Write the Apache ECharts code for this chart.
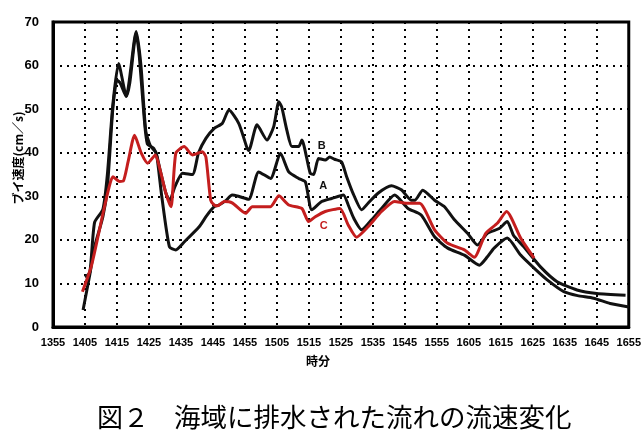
<!DOCTYPE html>
<html><head><meta charset="utf-8">
<script src="https://cdn.jsdelivr.net/npm/echarts@6/dist/echarts.min.js"></script>
<style>html,body{margin:0;padding:0;background:#fff}#c{width:644px;height:444px}</style>
</head><body><div id="c"></div>
<script>
// time = minutes after 13:55
const START_MIN = 13 * 60 + 55;
const xTicksMax = 180;
const yTicks = [0, 10, 20, 30, 40, 50, 60, 70];

const timeA = [9.4,11.5,13,15.6,17,18.7,20,21,22.9,24,26,27,28.5,29.5,31.5,32.5,34,36.4,38.4,41,45.7,48,50.4,51.9,54,56,58,61.2,64.3,68,71.1,73.7,76.8,78.9,80.9,84,87.1,90.8,92.3,94,96.5,99.6,102.7,106.8,111,115.1,119.3,123.4,128.6,133.3,135.8,137.9,142,146.2,150.4,154.5,159.7,164,169,174.2,180];
const speedA = [3.9,12,18.4,25.3,32,50,56.7,56,52.9,56,67.5,62,48,42,41,39,30,18.4,17.7,19.5,23,25.5,27.6,28,29,30.3,30,29.3,35.6,34.1,39.9,35.6,34.1,33.3,26.9,28.8,29.5,30.3,28,25,22.3,24.6,27.2,30.3,27.2,25.7,20.7,18.1,16.5,14.2,16.1,18.1,20.4,16.5,13.5,10.8,8.1,7.2,6.6,5.4,4.6];

const timeB = [10,11.5,13,15.6,17,18.7,20.5,22.9,26,27.5,29,30.5,32.2,33.5,35.3,36.5,38,40.5,43.6,45.5,47.8,50.4,52.9,55,58.1,60.7,61.2,63.8,66.9,69,70.6,71.5,73.1,74.7,76.8,77.8,80.4,81.5,83,85.1,86.5,88,90.2,91.8,93.9,96.5,98.5,101.6,105.8,108.9,112,113.1,115.6,119.3,122.4,125.5,129.6,132.7,135.8,139.5,142,144,147.2,152.4,157.6,163.8,170,179];
const speedB = [11.5,12.5,24,27,35,51,60.5,53,67.8,60,45,41.5,40,36,30.7,29,32,35.3,35,40,43.3,45.6,46.7,49.8,46.7,41,40.5,46.4,42.9,46,51.7,50.5,45.2,41.4,41.4,42.9,35.3,35,38.7,38.3,39,38.5,37.9,34.5,30.5,26.9,28.4,30.7,32.4,31.5,29.1,29.1,31.4,29.1,27.6,24.6,21.5,18.8,21.5,22.6,24.2,21,18.4,13.8,10.4,8.5,7.7,7.3];

const timeC = [9.2,12,15.6,17.5,18.7,20.8,22,23.5,25.5,27.6,29.6,32,33.5,35.3,36.9,38.4,41,43.6,46.7,47.8,49.3,50.4,51.5,53.5,56,60.2,62.3,68,70.6,73.7,77.8,79.9,82,85.1,89.7,92.3,94.9,98.5,102.7,106.8,110.4,114.6,119.3,123.4,128.6,131.7,135.3,138.9,141.8,146.2,150.4];
const speedC = [8.1,14,26,32,34.5,33.4,33.5,38,44,39.9,37.6,39.5,36,30.7,27.6,39.9,41.4,39.5,40.2,39,29.1,28,27.8,28.8,28.5,26.1,27.6,27.6,30.1,28,27.2,24.2,25.3,26.5,27.2,23.4,20.6,23,26.5,28.8,28.4,28.4,22.3,19.2,17.7,16,21.5,23.8,26.5,20.4,15.8];

const seriesNames = ['A', 'B', 'C'];
const labelPosA = [84.5, 32.4];
const labelPosB = [84, 41.5];
const labelPosC = [84.6, 23.3];

const yTitle = 'ブイ速度(cm／s)';
const xTitle = '時分';
const captionNo = '図２';
const captionText = '海域に排水された流れの流速変化';

function pairs(t, v) { return t.map((x, i) => [x, v[i]]); }
function clock(v) {
  const m = START_MIN + v;
  const h = Math.floor(m / 60), mm = m % 60;
  return String(h * 100 + mm);
}

const chart = echarts.init(document.getElementById('c'), null, {renderer: 'canvas'});
const dotted = {show: true, lineStyle: {color: '#000', width: 2, type: [2, 5]}};
function mk(name, pos, color) {
  return {
    symbol: 'circle', symbolSize: 0, silent: true,
    data: [{coord: pos, value: name}],
    label: {show: true, position: 'inside', formatter: name, color: color,
      fontFamily: 'Liberation Sans, Arial', fontWeight: 'bold', fontSize: 11}
  };
}
chart.setOption({
  backgroundColor: '#fff',
  animation: false,
  grid: {left: 53, top: 22, right: 12, bottom: 117, show: true, borderColor: '#000', borderWidth: 3},
  xAxis: {
    type: 'value', min: 0, max: xTicksMax, interval: 10,
    axisLine: {show: true, lineStyle: {color: '#000', width: 3}},
    axisTick: {show: false},
    splitLine: dotted,
    axisLabel: {formatter: clock, color: '#000', fontFamily: 'Liberation Sans, Arial', fontWeight: 'bold', fontSize: 11, margin: 10, showMaxLabel: true}
  },
  yAxis: {
    type: 'value', min: yTicks[0], max: yTicks[yTicks.length - 1], interval: 10,
    axisLine: {show: true, lineStyle: {color: '#000', width: 3}},
    axisTick: {show: false},
    splitLine: dotted,
    axisLabel: {color: '#000', fontFamily: 'Liberation Sans, Arial', fontWeight: 'bold', fontSize: 13, margin: 14}
  },
  series: [
    {name: seriesNames[0], type: 'line', data: pairs(timeA, speedA), showSymbol: false, smooth: 0.2,
      lineStyle: {color: '#111', width: 3}, z: 3, markPoint: mk('A', labelPosA, '#111')},
    {name: seriesNames[1], type: 'line', data: pairs(timeB, speedB), showSymbol: false, smooth: 0.2,
      lineStyle: {color: '#111', width: 3}, z: 3, markPoint: mk('B', labelPosB, '#111')},
    {name: seriesNames[2], type: 'line', data: pairs(timeC, speedC), showSymbol: false, smooth: 0.2,
      lineStyle: {color: '#c41e1e', width: 3}, z: 4, markPoint: mk('C', labelPosC, '#c41e1e')}
  ],
  graphic: [
    {type: 'text', x: 18, y: 158, rotation: Math.PI / 2,
      style: {text: yTitle, fill: '#000', font: 'bold 12px "Noto Sans CJK JP"', textAlign: 'center', textVerticalAlign: 'middle'}},
    {type: 'text', x: 318, y: 361,
      style: {text: xTitle, fill: '#000', font: 'bold 12px "Noto Sans CJK JP"', textAlign: 'center', textVerticalAlign: 'middle'}},
    {type: 'text', x: 97, y: 417,
      style: {text: captionNo, fill: '#000', font: '26px "Noto Sans CJK JP"', textAlign: 'left', textVerticalAlign: 'middle'}},
    {type: 'text', x: 174, y: 417,
      style: {text: captionText, fill: '#000', font: '26.5px "Noto Sans CJK JP"', textAlign: 'left', textVerticalAlign: 'middle'}}
  ]
});
</script></body></html>
